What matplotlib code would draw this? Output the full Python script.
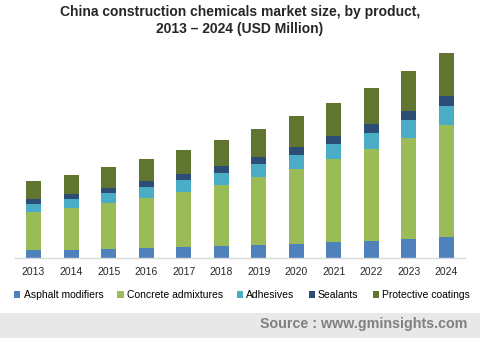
import matplotlib
matplotlib.use("Agg")
import matplotlib.pyplot as plt
from matplotlib.patches import Rectangle
import numpy as np

plt.rcParams['font.family'] = ['Liberation Sans', 'DejaVu Sans']

years = ["2013", "2014", "2015", "2016", "2017", "2018", "2019", "2020", "2021", "2022", "2023", "2024"]
asphalt = [8.0, 8.3, 9.3, 10.3, 11.3, 12.3, 13.3, 14.3, 16.3, 17.3, 19.0, 21.3]
concrete = [38.3, 42.0, 46.0, 49.7, 55.0, 61.0, 68.0, 74.7, 82.7, 91.7, 101.3, 111.7]
adhesives = [8.0, 9.0, 9.7, 11.3, 11.7, 11.7, 13.0, 14.3, 15.0, 16.3, 17.7, 19.3]
sealants = [4.7, 4.7, 4.7, 5.7, 6.0, 7.0, 6.7, 8.0, 8.0, 8.7, 9.3, 9.7]
protective = [18.0, 19.0, 21.3, 22.0, 24.0, 26.0, 28.0, 30.7, 33.3, 36.3, 40.0, 43.3]

series = [
    ("Asphalt modifiers", asphalt, "#4f81bd"),
    ("Concrete admixtures", concrete, "#9bbb59"),
    ("Adhesives", adhesives, "#4bacc6"),
    ("Sealants", sealants, "#2c4d75"),
    ("Protective coatings", protective, "#5f7530"),
]

W, H = 480, 338
fig = plt.figure(figsize=(W / 100, H / 100), dpi=100)
ax = fig.add_axes([14.75 / W, (H - 258) / H, (465.25 - 14.75) / W, 213 / H])

x = np.arange(len(years))
bottom = np.zeros(len(years))
handles = []
for name, vals, color in series:
    b = ax.bar(x, vals, width=0.4, bottom=bottom, color=color, label=name, linewidth=0)
    handles.append(b)
    bottom += np.array(vals)

ax.set_xlim(-0.5, len(years) - 0.5)
ax.set_ylim(0, 213)
ax.set_xticks(x)
ax.set_xticklabels(years, fontsize=7.5, color="#262626")
ax.tick_params(axis='x', length=0, pad=6.5)
ax.set_yticks([])
for s in ["top", "left", "right"]:
    ax.spines[s].set_visible(False)
ax.spines["bottom"].set_color("#d9d9d9")
ax.spines["bottom"].set_linewidth(1)

fig.text(0.5, 1 - 12 / H, "China construction chemicals market size, by product,",
         ha="center", va="center", fontsize=10, fontweight="bold", color="#262626")
fig.text(0.5, 1 - 29 / H, "2013 \u2013 2024 (USD Million)",
         ha="center", va="center", fontsize=10, fontweight="bold", color="#262626")

fig.legend(handles=handles, labels=[s[0] for s in series], loc="center",
           bbox_to_anchor=(242 / W, 1 - 295 / H), ncol=5, frameon=False,
           fontsize=7.5, handlelength=0.6, handleheight=0.6, handletextpad=0.3,
           columnspacing=1.35, borderpad=0)

fig.patches.append(Rectangle((0, 0), 1, 25 / H, transform=fig.transFigure,
                             facecolor="#e8e8e8", edgecolor="none", zorder=0))
fig.text(467 / W, 1 - 324 / H, "Source : www.gminsights.com", ha="right", va="center",
         fontsize=10.3, fontweight="bold", color="#808080")

fig.savefig("out.png", dpi=100)
